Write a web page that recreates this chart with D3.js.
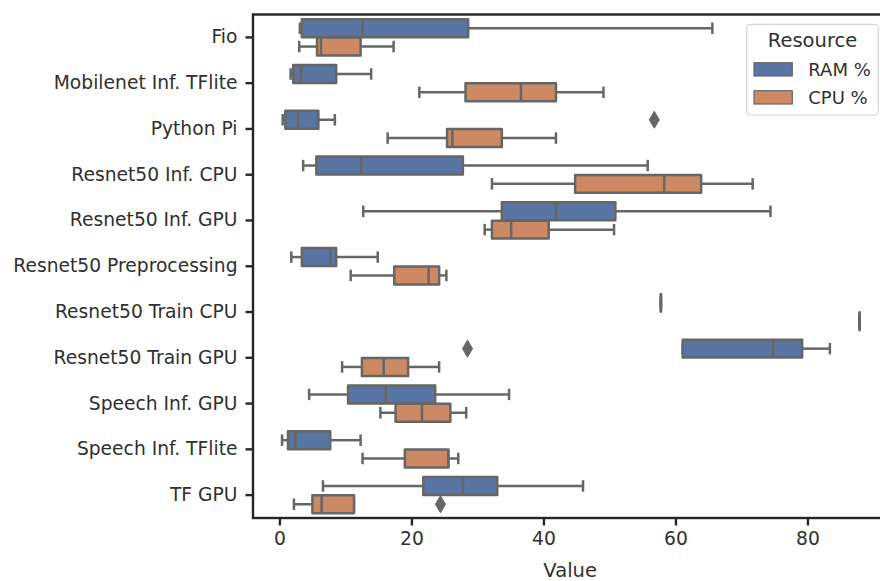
<!DOCTYPE html>
<html>
<head>
<meta charset="utf-8">
<script src="https://cdn.jsdelivr.net/npm/d3@7"></script>
<style>
  body { margin: 0; background: #fff; }
  svg { display: block; font-family: "DejaVu Sans", sans-serif; }
</style>
</head>
<body>
<svg id="chart" width="880" height="581"></svg>
<script>
// categories on the y axis
const categories = ["Fio", "Mobilenet Inf. TFlite", "Python Pi", "Resnet50 Inf. CPU",
  "Resnet50 Inf. GPU", "Resnet50 Preprocessing", "Resnet50 Train CPU", "Resnet50 Train GPU",
  "Speech Inf. GPU", "Speech Inf. TFlite", "TF GPU"]
const hues = ["RAM %", "CPU %"]
const hueColors = ["#5875a4", "#cc8963"]

// [whisker low, q1, median, q3, whisker high]
const ramStats = [
  [3.1, 3.4, 12.6, 28.6, 65.6],
  [1.7, 2.1, 3.3, 8.6, 13.9],
  [0.5, 0.9, 2.8, 5.9, 8.4],
  [3.6, 5.6, 12.4, 27.8, 55.8],
  [12.7, 33.7, 41.9, 50.9, 74.4],
  [1.8, 3.4, 7.7, 8.6, 14.9],
  [57.8, 57.8, 57.8, 57.8, 57.8],
  [61.1, 61.1, 74.8, 79.2, 83.4],
  [4.5, 10.4, 16.1, 23.6, 34.8],
  [0.4, 1.3, 2.4, 7.7, 12.3],
  [6.6, 21.8, 27.8, 33.0, 46.0]
]
const cpuStats = [
  [3.0, 5.7, 6.3, 12.3, 17.3],
  [21.2, 28.2, 36.6, 41.9, 49.1],
  [16.4, 25.4, 26.2, 33.7, 41.9],
  [32.2, 44.8, 58.3, 63.9, 71.7],
  [31.1, 32.2, 35.1, 40.8, 50.7],
  [10.8, 17.4, 22.6, 24.2, 25.3],
  [87.9, 87.9, 87.9, 87.9, 87.9],
  [9.5, 12.5, 15.8, 19.5, 24.2],
  [15.3, 17.6, 21.6, 25.9, 28.3],
  [12.6, 19.0, 25.6, 25.6, 27.1],
  [2.2, 5.0, 6.4, 11.3, 11.3]
]
// outliers: [category, hue index, value]
const outliers = [
  ["Python Pi", 0, 56.8],
  ["Resnet50 Train GPU", 0, 28.5],
  ["TF GPU", 1, 24.4]
]
const xTicks = [0, 20, 40, 60, 80]

const svg = d3.select("#chart")
const pLeft = 253, pRight = 887.3, pTop = 14.5, pBottom = 518
const gray = "#666666"
const ink = "#303030"

const x = d3.scaleLinear().domain([-4, 92.1]).range([pLeft, pRight])
const y = d3.scaleBand().domain(categories).range([pTop, pBottom])
const unit = y.bandwidth()
const boxH = unit * 0.392
const hueOffset = [-unit * 0.2, unit * 0.2]

const plot = svg.append("g")

const drawBox = (cat, hi, s) => {
  const cy = y(cat) + unit / 2 + hueOffset[hi]
  const g = plot.append("g")
  const [lo, q1, med, q3, hiW] = s
  // whiskers
  g.append("line").attr("x1", x(lo)).attr("x2", x(q1)).attr("y1", cy).attr("y2", cy)
    .attr("stroke", gray).attr("stroke-width", 2.5)
  g.append("line").attr("x1", x(q3)).attr("x2", x(hiW)).attr("y1", cy).attr("y2", cy)
    .attr("stroke", gray).attr("stroke-width", 2.5)
  // caps
  ;[lo, hiW].forEach(v => {
    g.append("line").attr("x1", x(v)).attr("x2", x(v))
      .attr("y1", cy - boxH / 4).attr("y2", cy + boxH / 4)
      .attr("stroke", gray).attr("stroke-width", 2.5).attr("stroke-linecap", "square")
  })
  // box
  const x0 = x(q1), x1 = x(q3), y0 = cy - boxH / 2, y1 = cy + boxH / 2
  g.append("path")
    .attr("d", `M${x0},${y0}L${x1},${y0}L${x1},${y1}L${x0},${y1}Z`)
    .attr("fill", hueColors[hi]).attr("stroke", gray).attr("stroke-width", 2.5)
    .attr("stroke-linejoin", "round")
  // median
  g.append("line").attr("x1", x(med)).attr("x2", x(med)).attr("y1", y0).attr("y2", y1)
    .attr("stroke", gray).attr("stroke-width", 2.5)
}

categories.forEach((c, i) => {
  drawBox(c, 0, ramStats[i])
  drawBox(c, 1, cpuStats[i])
})

outliers.forEach(([cat, hi, v]) => {
  const cx = x(v), cy = y(cat) + unit / 2 + hueOffset[hi]
  plot.append("path")
    .attr("d", `M${cx},${cy - 8.5}L${cx + 5},${cy}L${cx},${cy + 8.5}L${cx - 5},${cy}Z`)
    .attr("fill", gray).attr("stroke", gray).attr("stroke-width", 1)
})

// frame
svg.append("rect")
  .attr("x", pLeft).attr("y", pTop).attr("width", pRight - pLeft).attr("height", pBottom - pTop)
  .attr("fill", "none").attr("stroke", "#262626").attr("stroke-width", 2.4)

// x axis
const xAxis = svg.append("g").attr("transform", `translate(0,${pBottom})`)
  .call(d3.axisBottom(x).tickValues(xTicks).tickSize(7.5).tickPadding(6.5).tickFormat(d3.format("d")))
xAxis.select(".domain").remove()
xAxis.selectAll(".tick line").attr("stroke", "#262626").attr("stroke-width", 2.4)
xAxis.selectAll(".tick text").attr("fill", ink).attr("font-size", 18.7)
  .attr("font-family", "DejaVu Sans")

// y axis
const yAxis = svg.append("g").attr("transform", `translate(${pLeft},0)`)
  .call(d3.axisLeft(y).tickSize(7.5).tickPadding(8))
yAxis.select(".domain").remove()
yAxis.selectAll(".tick line").attr("stroke", "#262626").attr("stroke-width", 2.4)
yAxis.selectAll(".tick text").attr("fill", ink).attr("font-size", 18.7)
  .attr("font-family", "DejaVu Sans")

svg.append("text")
  .attr("x", (pLeft + pRight) / 2).attr("y", 576.5)
  .attr("text-anchor", "middle").attr("font-size", 19.5).attr("fill", ink)
  .text("Value")

// legend
const legend = svg.append("g")
legend.append("rect")
  .attr("x", 746.7).attr("y", 24.3).attr("width", 131.6).attr("height", 90.7).attr("rx", 4)
  .attr("fill", "#fff").attr("fill-opacity", 0.8).attr("stroke", "#d6d6d6").attr("stroke-width", 1.2)
legend.append("text")
  .attr("x", 812.5).attr("y", 46.7).attr("text-anchor", "middle")
  .attr("font-size", 19.5).attr("fill", ink).text("Resource")
hues.forEach((h, i) => {
  const yy = 62.7 + i * 28
  legend.append("rect")
    .attr("x", 754).attr("y", yy).attr("width", 38.3).attr("height", 13.3)
    .attr("fill", hueColors[i]).attr("stroke", gray).attr("stroke-width", 1.2)
  legend.append("text")
    .attr("x", 808.3).attr("y", yy + 6.7).attr("dy", "0.35em")
    .attr("font-size", 18).attr("fill", ink).text(h)
})
</script>
</body>
</html>
